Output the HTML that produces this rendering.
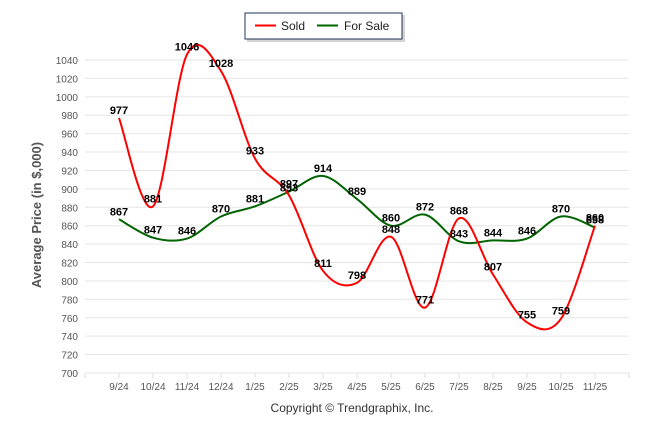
<!DOCTYPE html>
<html><head><meta charset="utf-8"><style>
body{margin:0;background:#fff;font-family:"Liberation Sans",Arial,sans-serif}
svg text{font-family:"Liberation Sans",Arial,sans-serif}
</style></head><body>
<svg id="chart" width="646" height="434">
<g id="grid"></g>
<g id="series"></g>
<g id="labels"></g>
<g>
<rect x="247" y="15" width="158" height="27" fill="#aaa" opacity="0.5"/>
<rect x="245" y="13" width="157" height="26" fill="#fff" stroke="#1f3558" stroke-width="1"/>
<line x1="255" y1="25.5" x2="276" y2="25.5" stroke="#f00" stroke-width="2"/>
<text x="281" y="30" font-size="12" fill="#222">Sold</text>
<line x1="317" y1="25.5" x2="338" y2="25.5" stroke="#006400" stroke-width="2"/>
<text x="344" y="30" font-size="12" fill="#222">For Sale</text>
</g>
<text transform="translate(41,215) rotate(-90)" text-anchor="middle" font-size="13" font-weight="bold" fill="#555">Average Price (in $,000)</text>
<text x="352" y="412" text-anchor="middle" font-size="12" fill="#333">Copyright © Trendgraphix, Inc.</text>
</svg>
<script>
const categories=["9/24","10/24","11/24","12/24","1/25","2/25","3/25","4/25","5/25","6/25","7/25","8/25","9/25","10/25","11/25"];
const sold=[977,881,1046,1028,933,893,811,798,848,771,868,807,755,759,860];
const forSale=[867,847,846,870,881,897,914,889,860,872,843,844,846,870,858];
const yTicks=[700,720,740,760,780,800,820,840,860,880,900,920,940,960,980,1000,1020,1040];
const NS="http://www.w3.org/2000/svg";
const x0=85,x1=629,bw=34,y700=373,y1040=60;
const xPos=i=>x0+bw*(i+1);
const yPos=v=>y700-(v-700)*(y700-y1040)/340;
function mk(tag,attrs,parent){const e=document.createElementNS(NS,tag);for(const k in attrs)e.setAttribute(k,attrs[k]);parent.appendChild(e);return e;}
const grid=document.getElementById('grid');
yTicks.forEach(t=>{
 const l=mk('line',{x1:x0,x2:x1,y1:yPos(t),y2:yPos(t),stroke:'#e6e6e6','stroke-width':1},grid);
 
 
 const tx=mk('text',{x:78,y:yPos(t)+4,'text-anchor':'end','font-size':10,fill:'#555'},grid);
 tx.textContent=t;
 
 
});
categories.forEach((c,i)=>{
 const tk=mk('line',{x1:xPos(i),x2:xPos(i),y1:y700,y2:y700+5,stroke:'#ddd'},grid);
 
 
 const tx=mk('text',{x:xPos(i),y:390,'text-anchor':'middle','font-size':10,fill:'#555'},grid);
 tx.textContent=c;
 
 
});
mk('line',{x1:x0,x2:x0,y1:y700,y2:y700+5,stroke:'#ddd'},grid);
mk('line',{x1:x1,x2:x1,y1:y700,y2:y700+5,stroke:'#ddd'},grid);
function spline(vals){
 const p=vals.map((v,i)=>[xPos(i),yPos(v)]);
 let d='M'+p[0][0]+','+p[0][1];
 const t=0.5;
 for(let i=0;i<p.length-1;i++){
  const a=p[i-1]||p[i],b=p[i],c=p[i+1],e=p[i+2]||c;
  const c1=[b[0]+(c[0]-a[0])*t/3*1.0,b[1]+(c[1]-a[1])*t/3*1.0];
  const c2=[c[0]-(e[0]-b[0])*t/3,c[1]-(e[1]-b[1])*t/3];
  d+=` C${c1[0]},${c1[1]} ${c2[0]},${c2[1]} ${c[0]},${c[1]}`;
 }
 return d;
}
const ser=document.getElementById('series');
const fs=mk('path',{d:spline(forSale),fill:'none',stroke:'#006400','stroke-width':2},ser);


const sl=mk('path',{d:spline(sold),fill:'none',stroke:'#f00','stroke-width':2},ser);


const lab=document.getElementById('labels');
[forSale,sold].forEach((arr,si)=>arr.forEach((v,i)=>{
 const tx=mk('text',{x:xPos(i),y:yPos(v)-4,'text-anchor':'middle','font-size':11,'font-weight':'bold',fill:'#000'},lab);
 tx.textContent=v;
 
 
}));
</script>
</body></html>
